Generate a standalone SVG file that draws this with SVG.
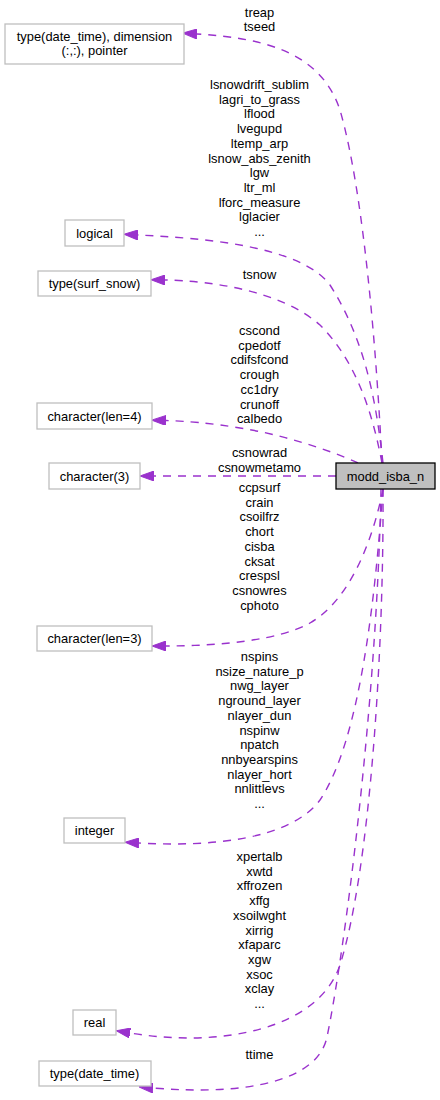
<svg xmlns="http://www.w3.org/2000/svg" width="440" height="1100" viewBox="0 0 440 1100">
<style>
.node rect{fill:#ffffff;stroke:#bfbfbf;stroke-width:1.3}
#modd_isba_n rect{fill:#bfbfbf;stroke:#000000}
text{font-family:"Liberation Sans",Arial,sans-serif;font-size:12.9px;fill:#000000;text-anchor:middle}
.edge{fill:none;stroke:#9a32cd;stroke-width:1.4;stroke-dasharray:8,7;marker-end:url(#ah)}
</style>
<defs>
<marker id="ah" markerUnits="userSpaceOnUse" viewBox="0 0 14 10" markerWidth="14" markerHeight="10" refX="0" refY="5" orient="auto">
<path d="M0,0 L14,5 L0,10 z" fill="#9a32cd" stroke="#9a32cd" stroke-width="1"/>
</marker>
</defs>
<rect width="440" height="1100" fill="#ffffff"/>
<g id="connectors">
<path class="edge" d="M382,463 C378,380 366,200 340,110 C320,50 260,38 197,34"/>
<path class="edge" d="M383,463 C376,400 365,340 330,285 C300,245 200,238 138,235"/>
<path class="edge" d="M382,463 C372,410 355,360 320,325 C280,290 210,281 165,280"/>
<path class="edge" d="M358,463 C330,450 280,434 240,428 C210,423 185,421 166,420.5"/>
<path class="edge" d="M336,476 L154,476"/>
<path class="edge" d="M383,489 C373,540 350,600 310,623 C280,640 220,646 166,646"/>
<path class="edge" d="M383,489 C375,600 360,740 320,800 C290,840 210,847 139,843"/>
<path class="edge" d="M383,489 C384,650 370,870 340,965 C318,1030 220,1048 130,1033"/>
<path class="edge" d="M381,489 C377,700 345,950 327,1037 C318,1080 250,1096 153,1088"/>
<g id="labels">
<text x="259.5" y="16.5">treap</text>
<text x="259.5" y="31.2">tseed</text>
<text x="259.5" y="89">lsnowdrift_sublim</text>
<text x="259.5" y="103.7">lagri_to_grass</text>
<text x="259.5" y="118.4">lflood</text>
<text x="259.5" y="133.1">lvegupd</text>
<text x="259.5" y="147.8">ltemp_arp</text>
<text x="259.5" y="162.5">lsnow_abs_zenith</text>
<text x="259.5" y="177.2">lgw</text>
<text x="259.5" y="191.9">ltr_ml</text>
<text x="259.5" y="206.6">lforc_measure</text>
<text x="259.5" y="221.3">lglacier</text>
<text x="259.5" y="236">...</text>
<text x="259.5" y="279">tsnow</text>
<text x="259.5" y="335">cscond</text>
<text x="259.5" y="349.7">cpedotf</text>
<text x="259.5" y="364.4">cdifsfcond</text>
<text x="259.5" y="379.1">crough</text>
<text x="259.5" y="393.8">cc1dry</text>
<text x="259.5" y="408.5">crunoff</text>
<text x="259.5" y="423.2">calbedo</text>
<text x="259.5" y="457">csnowrad</text>
<text x="259.5" y="471.7">csnowmetamo</text>
<text x="259.5" y="492">ccpsurf</text>
<text x="259.5" y="506.7">crain</text>
<text x="259.5" y="521.4">csoilfrz</text>
<text x="259.5" y="536.1">chort</text>
<text x="259.5" y="550.8">cisba</text>
<text x="259.5" y="565.5">cksat</text>
<text x="259.5" y="580.2">crespsl</text>
<text x="259.5" y="594.9">csnowres</text>
<text x="259.5" y="609.6">cphoto</text>
<text x="259.5" y="661">nspins</text>
<text x="259.5" y="675.7">nsize_nature_p</text>
<text x="259.5" y="690.4">nwg_layer</text>
<text x="259.5" y="705.1">nground_layer</text>
<text x="259.5" y="719.8">nlayer_dun</text>
<text x="259.5" y="734.5">nspinw</text>
<text x="259.5" y="749.2">npatch</text>
<text x="259.5" y="763.9">nnbyearspins</text>
<text x="259.5" y="778.6">nlayer_hort</text>
<text x="259.5" y="793.3">nnlittlevs</text>
<text x="259.5" y="808">...</text>
<text x="259.5" y="861">xpertalb</text>
<text x="259.5" y="875.7">xwtd</text>
<text x="259.5" y="890.4">xffrozen</text>
<text x="259.5" y="905.1">xffg</text>
<text x="259.5" y="919.8">xsoilwght</text>
<text x="259.5" y="934.5">xirrig</text>
<text x="259.5" y="949.2">xfaparc</text>
<text x="259.5" y="963.9">xgw</text>
<text x="259.5" y="978.6">xsoc</text>
<text x="259.5" y="993.3">xclay</text>
<text x="259.5" y="1008">...</text>
<text x="259.5" y="1059">ttime</text>
</g>
</g>
<g id="modd_isba_n" class="node"><rect x="336" y="463" width="99" height="26"/><text x="385.5" y="480.5">modd_isba_n</text></g>
<g id="type_date_time_pointer" class="node"><rect x="5" y="24" width="179" height="40"/><text x="94.5" y="40.5">type(date_time), dimension</text><text x="94.5" y="55.2">(:,:), pointer</text></g>
<g id="logical" class="node"><rect x="65" y="220" width="59" height="26"/><text x="94.5" y="237.5">logical</text></g>
<g id="type_surf_snow" class="node"><rect x="38" y="271" width="113" height="25"/><text x="94.5" y="288">type(surf_snow)</text></g>
<g id="character_len4" class="node"><rect x="37" y="403" width="115" height="26"/><text x="94.5" y="420.5">character(len=4)</text></g>
<g id="character_3" class="node"><rect x="49" y="463" width="91" height="26"/><text x="94.5" y="480.5">character(3)</text></g>
<g id="character_len3" class="node"><rect x="37" y="626" width="115" height="25"/><text x="94.5" y="643">character(len=3)</text></g>
<g id="integer" class="node"><rect x="64" y="818" width="61" height="25"/><text x="94.5" y="835">integer</text></g>
<g id="real" class="node"><rect x="73" y="1010" width="43" height="25"/><text x="94.5" y="1027">real</text></g>
<g id="type_date_time" class="node"><rect x="39" y="1061" width="112" height="25"/><text x="94.5" y="1078">type(date_time)</text></g>
</svg>
